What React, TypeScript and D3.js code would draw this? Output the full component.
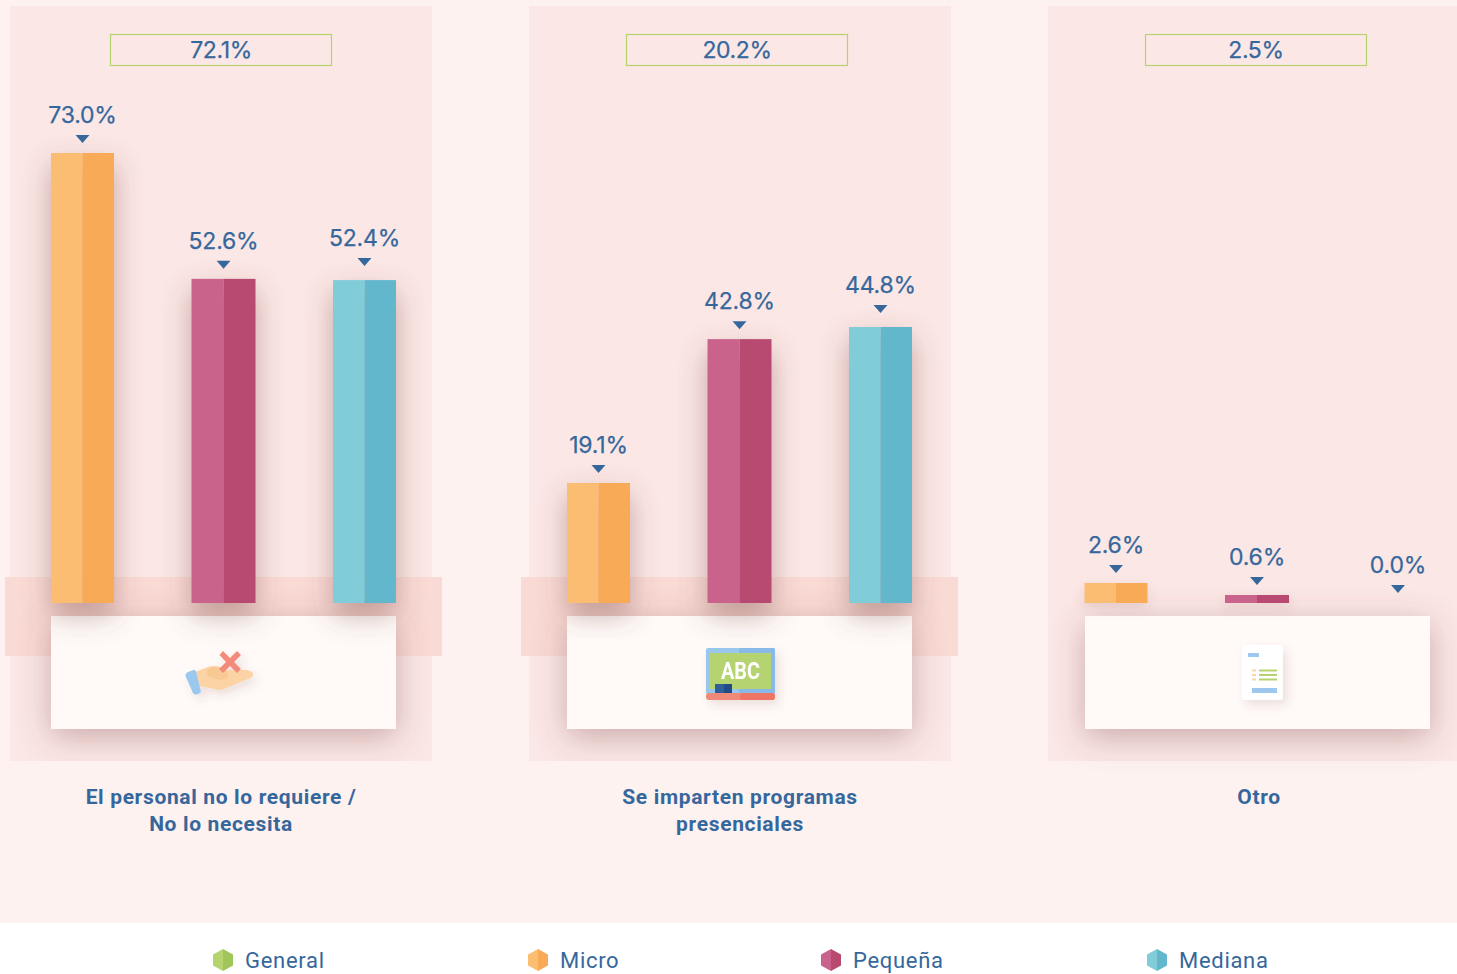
import React from 'react'
import * as d3 from 'd3'

const groups = ['personal', 'programas', 'otro']
const segments = ['Micro', 'Pequeña', 'Mediana']
const totals = [72.1, 20.2, 2.5]
const microValues = [73.0, 19.1, 2.6]
const pequenaValues = [52.6, 42.8, 0.6]
const medianaValues = [52.4, 44.8, 0.0]
const groupLabels = [
  ['El personal no lo requiere /', 'No lo necesita'],
  ['Se imparten programas', 'presenciales'],
  ['Otro'],
]
const legendLabels = ['General', 'Micro', 'Pequeña', 'Mediana']

const blue = '#36679c'
const green = ['#b5d36f', '#a0c558']
const tones = [
  ['#fbbd71', '#f9aa57'],
  ['#c9638b', '#b84a70'],
  ['#80ccd9', '#63b7cc'],
]
const legendTones = [green, ...tones]

const valueFont = 'Inter, sans-serif'
const labelFont = 'Roboto, sans-serif'

// panel left edges, the whole group repeats from these
const groupX = d3.scaleOrdinal<string, number>().domain(groups).range([0, 516, 1033.5])
const barX = d3.scalePoint<string>().domain(segments).range([82.5, 364.5])
// the small bars are drawn a bit taller than true in the original, hence the extra stops
const y = d3.scaleLinear().domain([0, 0.6, 2.6, 19.1, 44.8, 73]).range([603, 595, 583, 483, 327, 153])
const legendX = d3.scaleOrdinal<string, number>().domain(legendLabels).range([223, 538, 831, 1157])

const barWidths = [63, 64, 63]
const seriesValues = [microValues, pequenaValues, medianaValues]

const hexagon = d3.line()

function HandIcon() {
  return (
    <g filter="url(#iconShadow)">
      <path d="M195 672 L208 667 Q214 665 220 667 L228 670 L246 670 Q254 671 253 675 Q252 678 248 679 L224 689 Q220 691 214 689 L200 686 Z" fill="#fcd3a5" />
      <path d="M208 669 Q212 666 218 667 L224 670 Q229 673 228 677 Q224 681 216 679 L208 676 Q205 672 208 669 Z" fill="#f9c994" />
      <path d="M191 671 L195 670 Q196 670 197 672 L200 692 Q200 694 198 694 L195 695 Q193 695 192 693 L186 675 Q186 673 188 672 Z" fill="#9bc8ee" transform="rotate(-5 193 682)" />
      <path d="M219.500 655 L223 651 L230 658 L237 651 L241 655 L234 662 L241 669 L237 673 L230 666 L223 673 L219 669 L226 662 Z" fill="#f38b7b" />
    </g>
  )
}

function BoardIcon() {
  return (
    <g filter="url(#iconShadow)">
      <rect x="706" y="648" width="69" height="46" rx="2" fill="#9ac7ee" />
      <rect x="739" y="648" width="36" height="46" rx="2" fill="#88b9e8" />
      <rect x="710" y="653" width="61" height="36" fill="#b5d36f" />
      <text x="740.500" y="679" textAnchor="middle" fontFamily={labelFont} fontWeight="700" fontSize="23" textLength={39} lengthAdjust="spacingAndGlyphs" fill="#ffffff">ABC</text>
      <rect x="715" y="684" width="9" height="9" fill="#2f5f98" />
      <rect x="724" y="684" width="8" height="9" fill="#234b85" />
      <rect x="706" y="693" width="69" height="7" rx="3" fill="#f08a78" />
      <rect x="740" y="693" width="35" height="7" rx="3" fill="#ee7563" />
    </g>
  )
}

function DocIcon() {
  const rows = [669.500, 674, 678.500]
  return (
    <g filter="url(#iconShadow)">
      <rect x="1242" y="645" width="41" height="55" rx="3" fill="#ffffff" />
      <rect x="1248" y="653" width="11" height="4" fill="#9dc8ee" />
      {rows.map(r => (
        <g key={r}>
          <rect x="1252" y={r} width="4" height="2" fill="#fcd3a5" />
          <rect x="1259" y={r} width="18" height="2" fill="#b5d36f" />
        </g>
      ))}
      <rect x="1252" y="688" width="25" height="5" fill="#9dc8ee" />
    </g>
  )
}

const icons = [HandIcon, BoardIcon, DocIcon]

export default function App() {
  return (
    <svg width={1457} height={974} style={{ position: 'absolute', left: 0, top: 0, display: 'block' }}>
      <defs>
        <filter id="barShadow" x="-120%" y="-20%" width="340%" height="150%">
          <feDropShadow dx="0" dy="12" stdDeviation="14" floodColor="#7a4a44" floodOpacity="0.42" />
        </filter>
        <filter id="smallBarShadow" x="-80%" y="-200%" width="260%" height="600%">
          <feDropShadow dx="0" dy="5" stdDeviation="6" floodColor="#7a4a44" floodOpacity="0.14" />
        </filter>
        <filter id="cardShadow" x="-25%" y="-60%" width="150%" height="220%">
          <feDropShadow dx="0" dy="8" stdDeviation="16" floodColor="#7a4a44" floodOpacity="0.38" />
        </filter>
        <filter id="iconShadow" x="-50%" y="-50%" width="200%" height="200%">
          <feDropShadow dx="4" dy="5" stdDeviation="5" floodColor="#7a4a44" floodOpacity="0.14" />
        </filter>
        <clipPath id="panelClip">
          <rect x="10" y="6" width="422" height="755" />
          <rect x="5" y="577" width="437" height="79" />
        </clipPath>
      </defs>

      <rect width={1457} height={923} fill="#fdf2f0" />
      <rect y={923} width={1457} height={51} fill="#ffffff" />

      {groups.map((group, g) => {
        const dx = groupX(group)
        const Icon = icons[g]
        const last = g === groups.length - 1
        const boxLeft = [110.5, 110.5, 112][g]
        return (
          <g key={group}>
            <g transform={`translate(${dx},0)`}>
              <rect x={last ? 14.5 : 10 + (g === 1 ? 3 : 0)} y={6} width={last ? 409 : 422} height={755} fill="#fbe7e5" />
              {!last && <rect x={5} y={577} width={437} height={79} fill="#f9dad5" />}
              <g clipPath={last ? undefined : 'url(#panelClip)'}>
                <rect x={last ? 51.500 : 51} y={616} width={345} height={113} fill="#fffaf8" filter="url(#cardShadow)" />
              </g>
              <rect x={boxLeft} y={34.5} width={221} height={31} fill="none" stroke={green[0]} strokeWidth={1.2} />
              <text x={boxLeft + 110.5} y={58} textAnchor="middle" fontFamily={valueFont} fontSize={23} letterSpacing={-0.4} stroke={blue} strokeWidth={0.25} fill={blue}>
                {totals[g].toFixed(1)}%
              </text>
            </g>

            {segments.map((segment, s) => {
              const value = seriesValues[s][g]
              const cx = barX(segment)! + dx
              const top = y(value)
              const h = y(0) - top
              const w = barWidths[s]
              // the last bar's marker sits higher in the two tall groups
              const lift = s === 2 && !last ? 4 : 0
              return (
                <g key={segment}>
                  {h > 0 && (
                    <g filter={h > 40 ? 'url(#barShadow)' : 'url(#smallBarShadow)'}>
                      <rect x={cx - w / 2} y={top} width={w / 2} height={h} fill={tones[s][0]} />
                      <rect x={cx} y={top} width={w / 2} height={h} fill={tones[s][1]} />
                    </g>
                  )}
                  <path d={`M${cx - 7},${top - 18 - lift}L${cx + 7},${top - 18 - lift}L${cx},${top - 10 - lift}Z`} fill={blue} />
                  <text x={cx} y={top - 30 - lift} textAnchor="middle" fontFamily={valueFont} fontSize={23} letterSpacing={-0.2} stroke={blue} strokeWidth={0.25} fill={blue}>
                    {value.toFixed(1)}%
                  </text>
                </g>
              )
            })}

            <Icon />

            {groupLabels[g].map((line, i) => (
              <text
                key={line}
                x={[221, 740, 1259][g]}
                y={804 + i * 27}
                textAnchor="middle"
                fontFamily={labelFont}
                fontWeight="700"
                fontSize={21}
                letterSpacing={0.65}
                fill={blue}
              >
                {line}
              </text>
            ))}
          </g>
        )
      })}

      {legendLabels.map((label, i) => {
        const cx = legendX(label)
        const cy = 960
        const left = hexagon([[cx, cy - 11], [cx - 10, cy - 5.5], [cx - 10, cy + 5.5], [cx, cy + 11]])!
        const right = hexagon([[cx, cy - 11], [cx + 10, cy - 5.5], [cx + 10, cy + 5.5], [cx, cy + 11]])!
        return (
          <g key={label}>
            <path d={left} fill={legendTones[i][0]} />
            <path d={right} fill={legendTones[i][1]} />
            <text x={cx + 22} y={968} fontFamily={labelFont} fontSize={22} letterSpacing={0.7} fill={blue}>
              {label}
            </text>
          </g>
        )
      })}
    </svg>
  )
}
